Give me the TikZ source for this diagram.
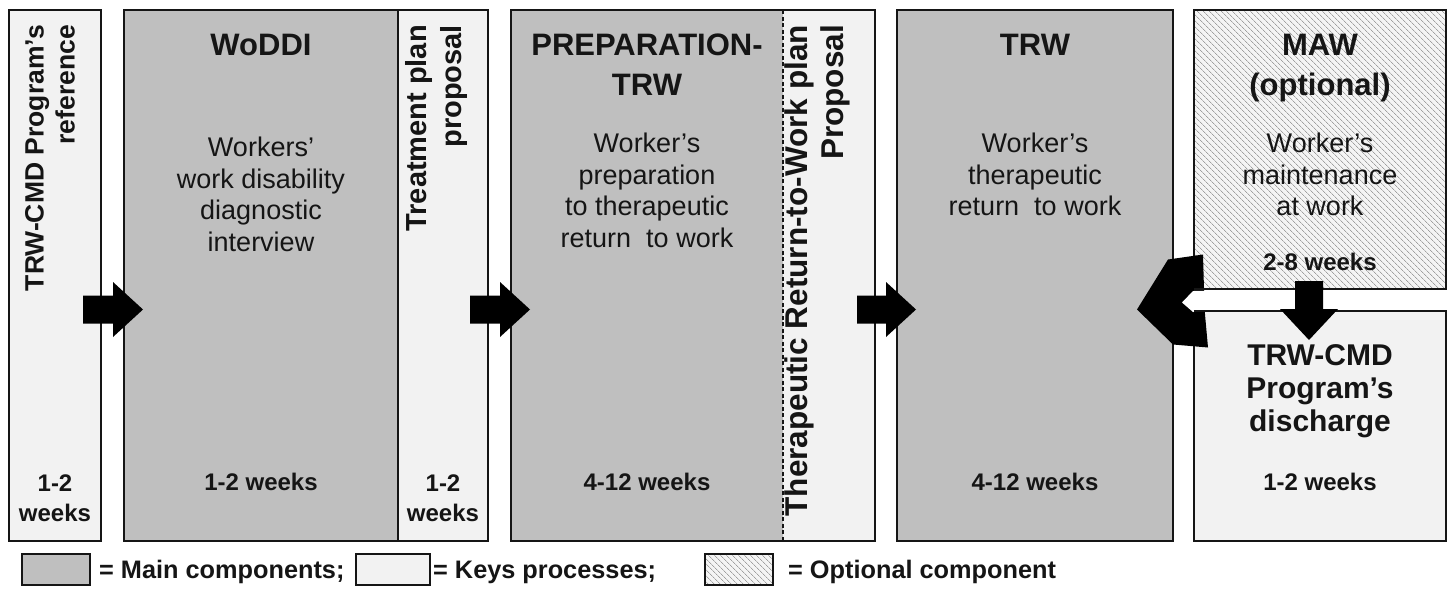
\documentclass[tikz,border=0pt]{standalone}
\usepackage{fontspec}
\setmainfont{Liberation Sans}
\usetikzlibrary{calc,patterns.meta}
\definecolor{maingray}{HTML}{BFBFBF}
\definecolor{keygray}{HTML}{F2F2F2}
\definecolor{edge}{HTML}{151515}
\definecolor{hatchbg}{HTML}{F4F4F4}
\definecolor{hatchfg}{HTML}{A0A0A0}
\begin{document}
\begin{tikzpicture}[x=1pt,y=-1pt,
  box/.style={draw=edge, line width=2pt, rectangle, anchor=north west, inner sep=0pt, outer sep=0pt},
  mainbox/.style={box, fill=maingray},
  keybox/.style={box, fill=keygray},
  optbox/.style={box, preaction={fill=hatchbg}, pattern={Lines[angle=-45,distance=4pt,line width=0.8pt]}, pattern color=hatchfg},
  ttl/.style={font=\fontsize{31}{40}\selectfont\bfseries, align=center, anchor=north, inner sep=0pt, text=edge},
  body/.style={font=\fontsize{27}{31.5}\selectfont, align=center, anchor=north, inner sep=0pt, text=edge},
  wk/.style={font=\fontsize{24}{30}\selectfont\bfseries, align=center, inner sep=0pt, text=edge},
  vert/.style={rotate=90, anchor=east, align=right, inner sep=0pt, text=edge},
  leg/.style={font=\fontsize{25.3}{30}\selectfont\bfseries, anchor=base west, inner sep=0pt, text=edge},
  blk/.style={fill=black, draw=none}
]
\useasboundingbox[fill=white] (0,0) rectangle (1452,589);

% ---- boxes
\node[keybox, minimum width=92pt, minimum height=531pt] (ref) at (9,10) {};
\node[mainbox, minimum width=274pt, minimum height=531pt] (woddi) at (124,10) {};
\node[keybox, minimum width=90pt, minimum height=531pt] (treat) at (398,10) {};
\node[box, draw=none, fill=maingray, minimum width=272pt, minimum height=531pt] (prep) at (511,10) {};
\node[box, draw=none, fill=keygray, minimum width=92pt, minimum height=531pt] (rtwplan) at (783,10) {};
\draw[edge, line width=2pt] (prep.north west) rectangle (rtwplan.south east);
\draw[edge, line width=1.3pt, dash pattern=on 4pt off 2.5pt] (prep.north east) -- (prep.south east);
\node[mainbox, minimum width=276pt, minimum height=531pt] (trw) at (897,10) {};
\node[optbox, minimum width=252pt, minimum height=279pt] (maw) at (1194,10) {};
\node[keybox, minimum width=252pt, minimum height=230pt] (dis) at (1194,311) {};

% ---- texts
\node[vert, font=\fontsize{26.5}{31}\selectfont\bfseries] (reft) at ($(ref.north)+(-5,15)$) {TRW-CMD Program’s\\reference};
\node[vert, font=\fontsize{29}{35}\selectfont\bfseries] (treatt) at ($(treat.north)+(-7,15)$) {Treatment plan\\proposal};
\node[vert, font=\fontsize{31.5}{36}\selectfont\bfseries] (rtwt) at ($(rtwplan.north)+(-12,15)$) {Therapeutic Return-to-Work plan\\Proposal};

\node[ttl] (woddit) at ($(woddi.north)+(0,24)$) {WoDDI};
\node[body] (woddib) at ($(woddi.north)+(0,127)$) {Workers’\\work disability\\diagnostic\\interview};
\node[ttl] (prept) at ($(prep.north)+(0,24)$) {PREPARATION-\\TRW};
\node[body] (prepb) at ($(prep.north)+(0,123)$) {Worker’s\\preparation\\to therapeutic\\return\ \ to work};
\node[ttl] (trwt) at ($(trw.north)+(0,24)$) {TRW};
\node[body] (trwb) at ($(trw.north)+(0,123)$) {Worker’s\\therapeutic\\return\ \ to work};
\node[ttl] (mawt) at ($(maw.north)+(0,24)$) {MAW\\(optional)};
\node[body] (mawb) at ($(maw.north)+(0,123)$) {Worker’s\\maintenance\\at work};
\node[wk, anchor=north] (mawk) at ($(maw.north)+(0,243)$) {2-8 weeks};
\node[ttl, font=\fontsize{30}{33}\selectfont\bfseries] (dist) at ($(dis.north)+(0,33)$) {TRW-CMD\\Program’s\\discharge};

\node[wk, anchor=north] (refw) at ($(ref.north)+(0,465)$) {1-2\\weeks};
\node[wk, anchor=base] (woddiw) at ($(woddi.north)+(0,480)$) {1-2 weeks};
\node[wk, anchor=north] (treatw) at ($(treat.north)+(0,465)$) {1-2\\weeks};
\node[wk, anchor=base] (prepw) at ($(prep.north)+(0,480)$) {4-12 weeks};
\node[wk, anchor=base] (trww) at ($(trw.north)+(0,480)$) {4-12 weeks};
\node[wk, anchor=base] (disw) at ($(dis.north)+(0,179)$) {1-2 weeks};

% ---- right block arrows
\coordinate (a1s) at ($(ref.east)+(-18,34)$);
\coordinate (a1t) at ($(woddi.west)+(19,34)$);
\coordinate (a2s) at ($(treat.east)+(-18,34)$);
\coordinate (a2t) at ($(prep.west)+(19,34)$);
\coordinate (a3s) at ($(rtwplan.east)+(-18,34)$);
\coordinate (a3t) at ($(trw.west)+(19,34)$);
\foreach \s/\t in {a1s/a1t,a2s/a2t,a3s/a3t}{
  \fill[blk] ($(\s)+(0,-14)$) -- ($(\t)+(-30,-14)$) -- ($(\t)+(-30,-27.5)$) -- (\t)
     -- ($(\t)+(-30,27.5)$) -- ($(\t)+(-30,14)$) -- ($(\s)+(0,14)$) -- cycle;
}

% ---- left black arrow into TRW (from MAW / discharge)
\coordinate (lt) at ($(trw.east)+(-36,34)$);
\fill[blk] (lt) -- ($(lt)+(31,-50)$) -- ($(lt)+(66,-55)$) -- ($(lt)+(67,-20)$)
   -- ($(lt)+(68,5)$) -- ($(lt)+(71,38)$) -- ($(lt)+(36,35)$) -- cycle;
% white return band
\coordinate (wt) at ($(lt)+(45,-7)$);
\fill[white] (wt) -- ($(wt)+(11,-11.5)$) -- ($(maw.south east)+(6,1.2)$) -- ($(dis.north east)+(6,-1.2)$) -- ($(wt)+(11,9.5)$) -- cycle;
\draw[edge, line width=2pt] (maw.south west) -- (maw.south east);
\draw[edge, line width=2pt] (dis.north west) -- (dis.north east);

% ---- down arrow MAW -> discharge
\coordinate (ds) at ($(maw.south)+(-11,-8)$);
\coordinate (dt) at ($(dis.north)+(-11,29)$);
\fill[blk] ($(ds)+(-14,0)$) -- ($(ds)+(14,0)$) -- ($(dt)+(14,-31)$) -- ($(dt)+(29,-31)$) -- (dt)
   -- ($(dt)+(-29,-31)$) -- ($(dt)+(-14,-31)$) -- cycle;

% ---- legend
\node[mainbox, minimum width=68pt, minimum height=31pt] (lg1) at (22,554) {};
\node[leg] (lg1t) at ($(lg1.east)+(9,9)$) {= Main components;};
\node[keybox, minimum width=74pt, minimum height=31pt] (lg2) at (356,554) {};
\node[leg] (lg2t) at ($(lg2.east)+(3,9)$) {= Keys processes;};
\node[optbox, minimum width=68pt, minimum height=31pt] (lg3) at (705,554) {};
\node[leg] (lg3t) at ($(lg3.east)+(15,9)$) {= Optional component};
\end{tikzpicture}
\end{document}
